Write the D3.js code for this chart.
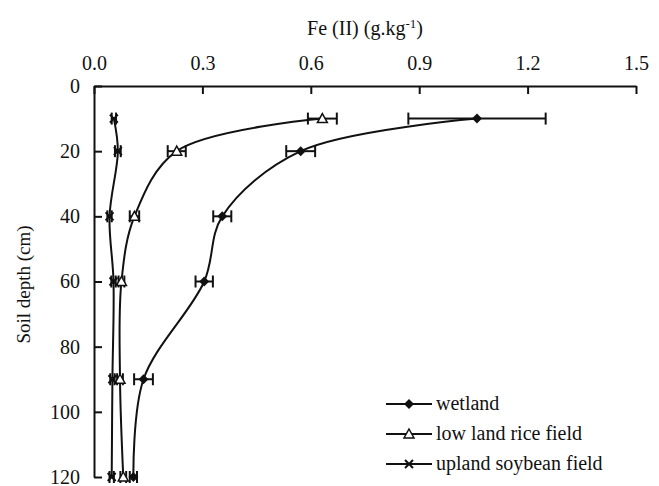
<!DOCTYPE html>
<html>
<head>
<meta charset="utf-8">
<script src="https://cdn.jsdelivr.net/npm/d3@7"></script>
</head>
<body style="margin:0">
<script>
// data
var depths = [10, 20, 40, 60, 90, 120];
var wetland = [1.06, 0.572, 0.355, 0.305, 0.137, 0.109];
var wetlandErr = [0.19, 0.04, 0.025, 0.024, 0.026, 0.01];
var rice = [0.632, 0.229, 0.112, 0.076, 0.072, 0.081];
var riceErr = [0.04, 0.025, 0.013, 0.008, 0.008, 0.008];
var soybean = [0.055, 0.066, 0.043, 0.054, 0.051, 0.049];
var soybeanErr = [0.006, 0.008, 0.006, 0.006, 0.006, 0.006];
var xTicks = [0, 0.3, 0.6, 0.9, 1.2, 1.5];
var yTicks = [0, 20, 40, 60, 80, 100, 120];

var w = 659, h = 486;
// plot box (names avoid window.top)
var pLeft = 94, pRight = 636, pTop = 86, pBottom = 477;
var serif = "'Liberation Serif', Tinos, 'Times New Roman'";

var svg = d3.select("body").append("svg")
  .attr("width", w).attr("height", h)
  .attr("font-family", serif);

var x = d3.scaleLinear().domain([0, 1.5]).range([pLeft, pRight]);
var y = d3.scaleLinear().domain([0, 120]).range([pTop, pBottom]);

svg.append("g")
  .attr("transform", "translate(0," + pTop + ")")
  .call(d3.axisTop(x).tickValues(xTicks).tickFormat(d3.format(".1f"))
    .tickSizeInner(-8).tickSizeOuter(0).tickPadding(16))
  .attr("font-family", serif).attr("font-size", null);
svg.append("g")
  .attr("transform", "translate(" + pLeft + ",0)")
  .call(d3.axisLeft(y).tickValues(yTicks)
    .tickSizeInner(-8).tickSizeOuter(0).tickPadding(14))
  .attr("font-family", serif).attr("font-size", null);

svg.selectAll(".domain, .tick line").attr("stroke", "#111").attr("stroke-width", 2);

svg.append("text")
  .attr("x", 365).attr("y", 35)
  .attr("text-anchor", "middle")
  .html('Fe (II) (g.kg<tspan dy="-7" style="font-size:13px">-1</tspan><tspan dy="7">)</tspan>');

svg.append("text")
  .attr("transform", "translate(30," + ((pTop + pBottom) / 2 + 3) + ") rotate(-90)")
  .attr("text-anchor", "middle")
  .attr("class", "ylab")
  .text("Soil depth (cm)");

var series = [
  { name: "wetland", vals: wetland, err: wetlandErr, mark: "diamond" },
  { name: "low land rice field", vals: rice, err: riceErr, mark: "triangle" },
  { name: "upland soybean field", vals: soybean, err: soybeanErr, mark: "cross" }
];

var line = d3.line()
  .x(function(d) { return x(d[0]); })
  .y(function(d) { return y(d[1]); })
  .curve(d3.curveCatmullRom.alpha(0.5));

function drawMark(g, kind, cx, cy) {
  if (kind === "diamond") {
    g.append("path")
      .attr("d", "M" + cx + "," + (cy - 5) + "L" + (cx + 5) + "," + cy + "L" + cx + "," + (cy + 5) + "L" + (cx - 5) + "," + cy + "Z")
      .attr("fill", "#111");
  } else if (kind === "triangle") {
    g.append("path")
      .attr("d", "M" + cx + "," + (cy - 5) + "L" + (cx + 5) + "," + (cy + 4) + "L" + (cx - 5) + "," + (cy + 4) + "Z")
      .attr("fill", "#fff").attr("stroke", "#111").attr("stroke-width", 1.5);
  } else {
    g.append("path")
      .attr("d", "M" + (cx - 4) + "," + (cy - 4) + "L" + (cx + 4) + "," + (cy + 4) + "M" + (cx + 4) + "," + (cy - 4) + "L" + (cx - 4) + "," + (cy + 4))
      .attr("stroke", "#111").attr("stroke-width", 2);
  }
}

series.forEach(function(s) {
  var pts = depths.map(function(d, i) { return [s.vals[i], d]; });
  var g = svg.append("g");
  g.append("path").datum(pts)
    .attr("d", line)
    .attr("fill", "none").attr("stroke", "#111").attr("stroke-width", 2);

  // error bars
  pts.forEach(function(p, i) {
    var x0 = x(p[0] - s.err[i]), x1 = x(p[0] + s.err[i]), yy = y(p[1]);
    g.append("line").attr("x1", x0).attr("x2", x1).attr("y1", yy).attr("y2", yy)
      .attr("stroke", "#111").attr("stroke-width", 2);
    [x0, x1].forEach(function(xx) {
      g.append("line").attr("x1", xx).attr("x2", xx).attr("y1", yy - 6).attr("y2", yy + 6)
        .attr("stroke", "#111").attr("stroke-width", 2);
    });
  });
  pts.forEach(function(p) { drawMark(g, s.mark, x(p[0]), y(p[1])); });
});

// legend
var legend = svg.append("g");
series.forEach(function(s, i) {
  var ly = 404 + i * 30;
  legend.append("line").attr("x1", 386).attr("x2", 432).attr("y1", ly).attr("y2", ly)
    .attr("stroke", "#111").attr("stroke-width", 2);
  drawMark(legend, s.mark, 409, ly);
  legend.append("text").attr("x", 436).attr("y", ly + 6).text(s.name);
});

svg.selectAll("text")
  .style("font-family", serif)
  .style("font-size", function() { return this.getAttribute("class") === "ylab" ? "19px" : "20px"; })
  .style("fill", "#111");
</script>
</body>
</html>
